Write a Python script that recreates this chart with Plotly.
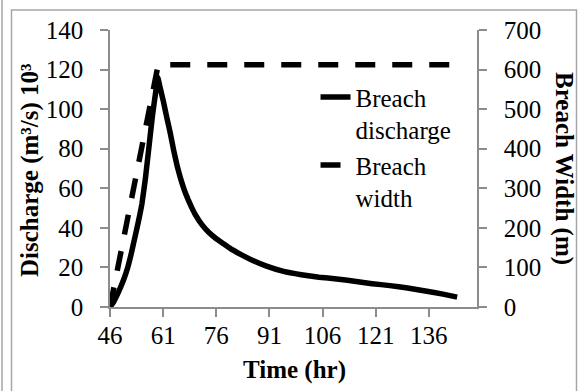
import plotly.graph_objects as go

# ---- data ----
time_q = [46, 47, 48, 49, 50, 51, 52, 53, 54, 55, 56, 57, 58, 59, 59.5, 60, 61, 62, 63, 64, 65, 66, 67, 68,
          69, 70, 72, 74, 76, 78, 80, 83, 86, 90, 95, 100, 105, 110, 115, 120, 125, 130, 135, 140, 144]
discharge = [0, 2.5, 6, 10, 14.5, 20, 27, 35, 43, 52, 65, 81, 97, 110, 116, 112, 104.5, 96, 88, 79, 71, 64.5, 59, 54.5,
             50.5, 47, 41.5, 37.5, 34.5, 32, 29.5, 26.5, 23.8, 20.8, 18, 16.3, 15, 14.2, 13, 11.8, 10.8, 9.6, 8.1, 6.5, 5]

time_w = [46, 47, 48, 49, 50, 51, 52, 53, 54, 55, 56, 57, 58, 59, 59.6, 144]
width = [0, 45, 92, 138, 185, 230, 275, 320, 366, 412, 455, 500, 545, 590, 612, 612]

x_ticks = [46, 61, 76, 91, 106, 121, 136]
y_left_ticks = [0, 20, 40, 60, 80, 100, 120, 140]
y_right_ticks = [0, 100, 200, 300, 400, 500, 600, 700]

FONT = "Times New Roman, Liberation Serif, DejaVu Serif, serif"
AXC = "#8c8c8c"
FS = 25

fig = go.Figure()
fig.add_trace(go.Scatter(x=time_q, y=discharge, mode="lines", name="Breach<br>discharge",
                         line=dict(color="black", width=5.5, shape="spline", smoothing=0.3)))
fig.add_trace(go.Scatter(x=time_w, y=width, mode="lines", name="Breach<br>width", yaxis="y2",
                         line=dict(color="black", width=5.5, dash="20px,17px")))

axis_common = dict(showline=True, linecolor=AXC, linewidth=1.5, ticks="outside", ticklen=8,
                   tickcolor=AXC, tickwidth=1.5, showgrid=False, zeroline=False,
                   tickfont=dict(family=FONT, size=FS, color="black"))

fig.update_layout(
    width=578, height=391,
    margin=dict(l=110, r=101, t=30, b=84),
    paper_bgcolor="white", plot_bgcolor="white",
    font=dict(family=FONT, size=FS, color="black"),
    xaxis=dict(range=[46, 149.6], tickvals=x_ticks, ticktext=[str(v) for v in x_ticks],
               ticklabelstandoff=-3, **axis_common),
    yaxis=dict(range=[0, 140], tickvals=y_left_ticks, ticklabelstandoff=12, **axis_common),
    yaxis2=dict(range=[0, 700], tickvals=y_right_ticks, overlaying="y", side="right",
                ticklabelstandoff=12, **axis_common),
    legend=dict(x=0.56, y=0.84, xanchor="left", yanchor="top", valign="top",
                font=dict(family=FONT, size=FS, color="black"), bgcolor="rgba(0,0,0,0)",
                tracegroupgap=0),
    showlegend=True,
)

# axis titles
fig.add_annotation(text="<b>Discharge (m³/s) 10³</b>", xref="paper", yref="paper",
                   x=(30 - 110) / 367, y=(307 - 170) / 277, textangle=-90, showarrow=False,
                   font=dict(family=FONT, size=FS, color="black"), xanchor="center", yanchor="middle")
fig.add_annotation(text="<b>Breach Width (m)</b>", xref="paper", yref="paper",
                   x=(564 - 110) / 367, y=(307 - 168) / 277, textangle=90, showarrow=False,
                   font=dict(family=FONT, size=FS, color="black"), xanchor="center", yanchor="middle")
fig.add_annotation(text="<b>Time (hr)</b>", xref="paper", yref="paper",
                   x=(294 - 110) / 367, y=(307 - 370) / 277, showarrow=False,
                   font=dict(family=FONT, size=FS, color="black"), xanchor="center", yanchor="middle")

# chart frame (decoration)
def px(xp):
    return (xp - 110) / 367

def py(yp):
    return (307 - yp) / 277

fig.add_shape(type="rect", xref="paper", yref="paper", x0=px(11.5), x1=px(576.5), y0=py(10), y1=py(400),
              line=dict(color="#a6a6a6", width=1.5), layer="below")
fig.add_shape(type="line", xref="paper", yref="paper", x0=px(2), x1=px(2), y0=py(0), y1=py(400),
              line=dict(color="#a6a6a6", width=1.5), layer="below")

fig.write_html("out.html")
